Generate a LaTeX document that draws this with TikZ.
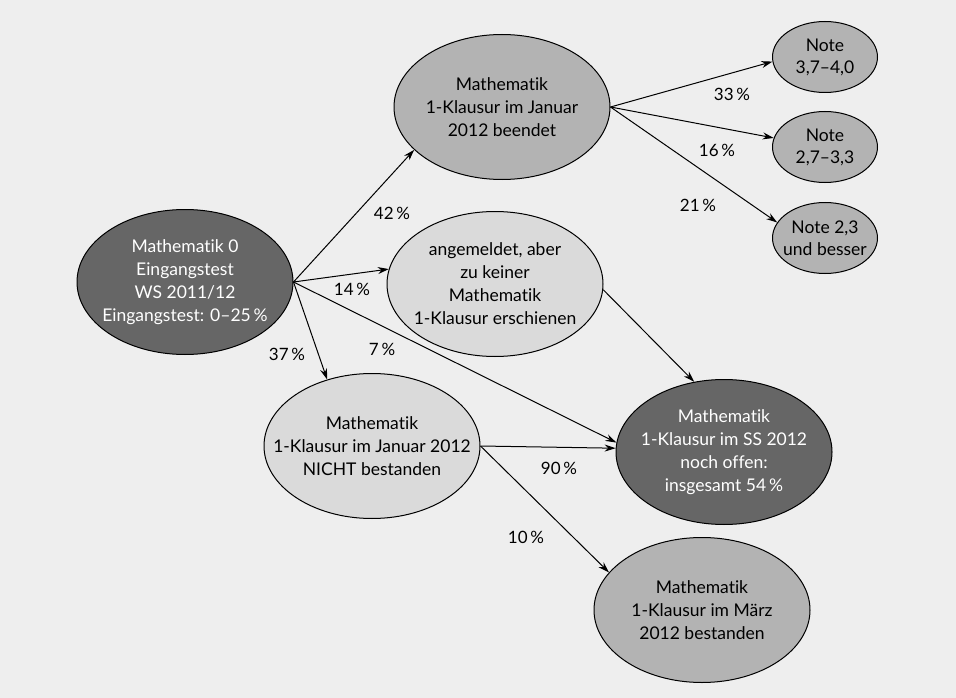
\documentclass[tikz,border=0pt]{standalone}
\usepackage{fontspec}
\setmainfont[Ligatures={NoCommon,NoDiscretionary,NoRare}]{Lato}
\usetikzlibrary{shapes.geometric,arrows.meta}
\definecolor{bg}{HTML}{EEEEEE}
\definecolor{darkfill}{HTML}{666666}
\definecolor{midfill}{HTML}{B3B3B3}
\definecolor{lightfill}{HTML}{DADADA}
\tikzset{
  ell/.style={ellipse, draw=black, line width=1pt, inner xsep=-45pt, inner ysep=-20pt,
    align=center, font=\fontsize{17.5}{23}\selectfont},
  darkell/.style={ell, fill=darkfill, text=white},
  midell/.style={ell, fill=midfill},
  lightell/.style={ell, fill=lightfill},
  big/.style={minimum width=216pt, minimum height=145pt},
  small/.style={minimum width=105pt, minimum height=71pt, font=\fontsize{17.5}{22}\selectfont},
  conn/.style={line width=1pt, -{Stealth[length=11pt,width=7pt]}},
  pct/.style={font=\fontsize{17}{18}\selectfont, inner sep=0pt}
}
\begin{document}
\begin{tikzpicture}[x=1pt,y=-1pt]
\fill[bg] (0,0) rectangle (956,698);
\useasboundingbox (0,0) rectangle (956,698);

\node[darkell, big] (A) at (185,282)
  {Mathematik 0\\Eingangstest\\WS 2011/12\\Eingangstest: 0–25\,\%};
\node[midell, big] (B) at (502,107) {Mathematik\\1-Klausur im Januar\\2012 beendet};
\node[lightell, big] (C) at (495,284)
  {angemeldet, aber\\zu keiner\\Mathematik\\1-Klausur erschienen};
\node[lightell, big] (D) at (372,446) {Mathematik\\1-Klausur im Januar 2012\\NICHT bestanden};
\node[darkell, big] (E) at (724,452)
  {Mathematik\\1-Klausur im SS 2012\\noch offen:\\insgesamt 54\,\%};
\node[midell, big] (F) at (702,610)
  {Mathematik\\1-Klausur im März\\2012 bestanden};
\node[midell, small] (G) at (825,57) {Note\\3,7–4,0};
\node[midell, small] (H) at (825,147) {Note\\2,7–3,3};
\node[midell, small] (I) at (825,238) {Note 2,3\\und besser};

\draw[conn] (A.east) -- (B.206);
\draw[conn] (A.east) -- (C.172);
\draw[conn] (A.east) -- (D.124);
\draw[conn] (A.east) -- (E.175);
\draw[conn] (B.east) -- (G.185);
\draw[conn] (B.east) -- (H.170);
\draw[conn] (B.east) -- (I.162);
\draw[conn] (C.-3) -- (E.113);
\draw[conn] (D.east) -- (E.178);
\draw[conn] (D.east) -- (F.158);

\node[pct] (p42) at (392,213) {42\,\%};
\node[pct] (p14) at (352,289) {14\,\%};
\node[pct] (p37) at (287,354) {37\,\%};
\node[pct] (p7) at (382,349) {7\,\%};
\node[pct] (p33) at (732,94) {33\,\%};
\node[pct] (p16) at (717,150) {16\,\%};
\node[pct] (p21) at (698,205) {21\,\%};
\node[pct] (p90) at (559,468) {90\,\%};
\node[pct] (p10) at (526,537) {10\,\%};
\end{tikzpicture}
\end{document}
